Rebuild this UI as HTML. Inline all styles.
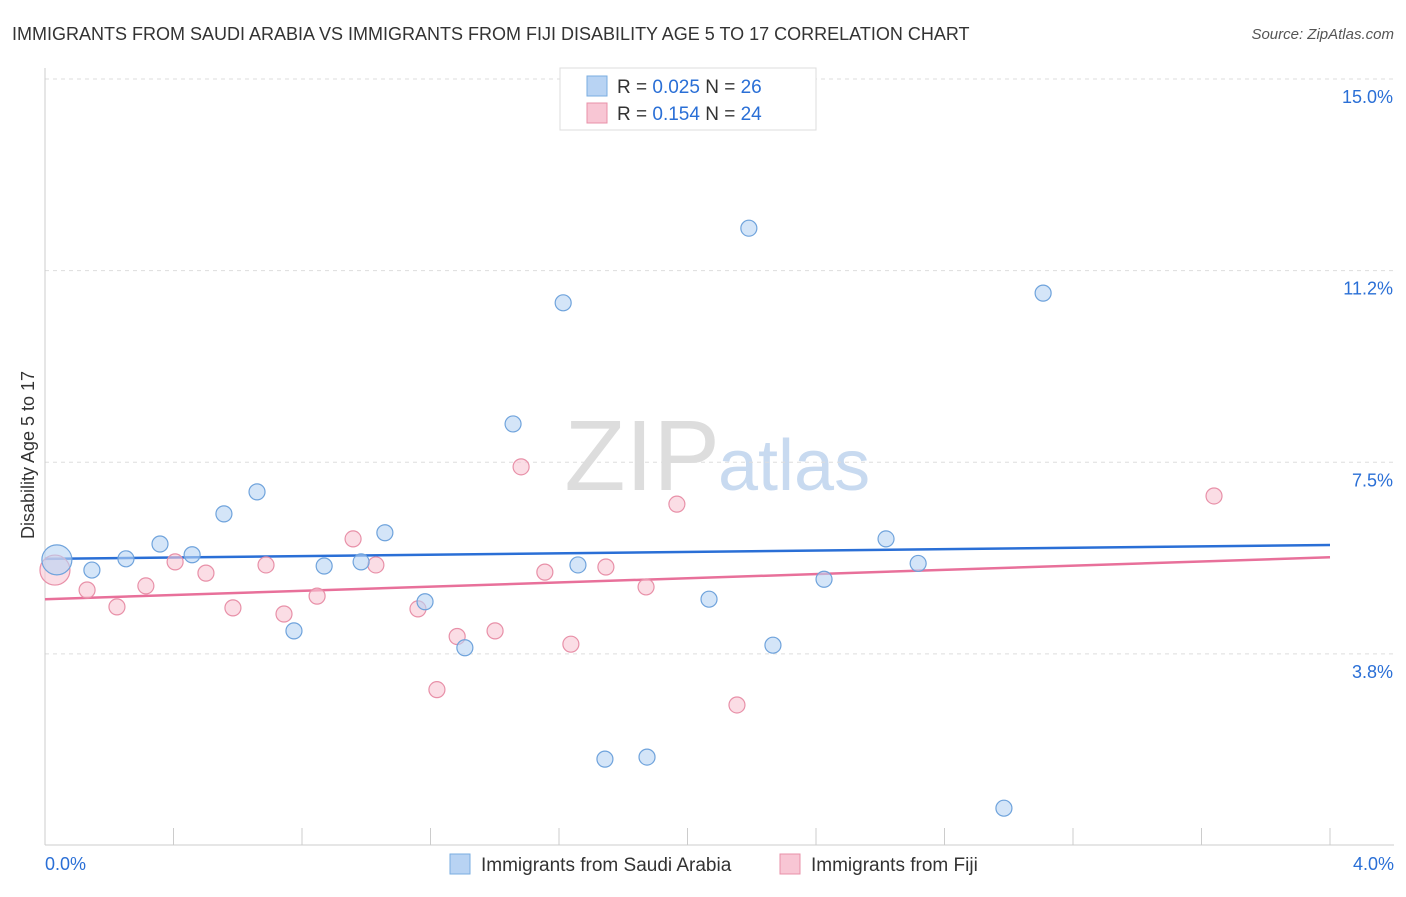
<!DOCTYPE html>
<html><head><meta charset="utf-8"><style>
body{margin:0;background:#fff;font-family:"Liberation Sans",sans-serif;}
svg text{font-family:"Liberation Sans",sans-serif;}
</style></head><body>
<svg width="1406" height="892" viewBox="0 0 1406 892">
<text x="12" y="40" font-size="18" fill="#333">IMMIGRANTS FROM SAUDI ARABIA VS IMMIGRANTS FROM FIJI DISABILITY AGE 5 TO 17 CORRELATION CHART</text>
<text x="1394" y="39" font-size="15" fill="#555" font-style="italic" text-anchor="end">Source: ZipAtlas.com</text>
<text x="34" y="455" font-size="18" fill="#333" transform="rotate(-90 34 455)" text-anchor="middle">Disability Age 5 to 17</text>
<text x="720" y="490" font-size="100" fill="#ddd" font-family="Liberation Serif" text-anchor="end">ZIP</text>
<text x="718" y="490" font-size="72" fill="#c8daf0">atlas</text>
<g id="grid"></g><g id="axes"></g><g id="lines"></g><g id="pts"></g>
<g>
<rect x="560" y="68" width="256" height="62" fill="#fff" stroke="#ddd"/>
<rect x="587" y="76" width="20" height="20" fill="#b8d3f3" stroke="#7aaee0"/>
<rect x="587" y="103" width="20" height="20" fill="#f8c6d4" stroke="#e890a8"/>
<text x="617" y="93" font-size="19" fill="#333">R = <tspan fill="#2a6fd6">0.025</tspan>   N = <tspan fill="#2a6fd6">26</tspan></text>
<text x="617" y="120" font-size="19" fill="#333">R =  <tspan fill="#2a6fd6">0.154</tspan>   N = <tspan fill="#2a6fd6">24</tspan></text>
</g>
<g>
<rect x="450" y="854" width="20" height="20" fill="#b8d3f3" stroke="#7aaee0"/>
<text x="481" y="871" font-size="19" fill="#333">Immigrants from Saudi Arabia</text>
<rect x="780" y="854" width="20" height="20" fill="#f8c6d4" stroke="#e890a8"/>
<text x="811" y="871" font-size="19" fill="#333">Immigrants from Fiji</text>
</g>
</svg>
<script>
const yTicks=[15.0,11.25,7.5,3.75];
const yTickLabels=["15.0%","11.2%","7.5%","3.8%"];
const xTickLabels=["0.0%","4.0%"];
const blueX=[0.037,0.146,0.252,0.358,0.458,0.557,0.660,0.775,0.869,0.984,1.058,1.183,1.307,1.457,1.613,1.659,1.743,1.874,2.067,2.191,2.266,2.425,2.618,2.718,2.985,3.107];
const blueY=[5.59,5.39,5.61,5.90,5.69,6.49,6.92,4.20,5.47,5.55,6.12,4.77,3.87,8.25,10.62,5.49,1.69,1.73,4.82,12.08,3.92,5.21,6.00,5.52,0.73,10.81];
const pinkX=[0.031,0.131,0.224,0.314,0.405,0.501,0.585,0.688,0.744,0.847,0.959,1.030,1.161,1.220,1.283,1.401,1.482,1.556,1.637,1.746,1.871,1.967,2.154,3.639];
const pinkY=[5.39,5.00,4.67,5.08,5.55,5.33,4.65,5.49,4.53,4.88,6.00,5.49,4.63,3.05,4.09,4.20,7.41,5.35,3.94,5.45,5.06,6.68,2.75,6.84];
const blueTrend=[5.61,5.88];
const pinkTrend=[4.82,5.64];
const NS="http://www.w3.org/2000/svg";
const X=v=>45+v*321.25, Y=v=>845.5-v*51.1;
function mk(t,a,p){const e=document.createElementNS(NS,t);for(const k in a)e.setAttribute(k,a[k]);p.appendChild(e);return e;}
const grid=document.getElementById('grid'),axes=document.getElementById('axes');
yTicks.forEach((t,i)=>{
 const l=mk('line',{x1:45,x2:1394,y1:Y(t),y2:Y(t),stroke:'#ddd','stroke-dasharray':'4,4'},grid);
 
 
 const tx=mk('text',{x:1393,y:Y(t)+24,'font-size':18,fill:'#2a6fd6','text-anchor':'end'},axes);
 tx.textContent=yTickLabels[i];
 
 
});
mk('line',{x1:45,x2:45,y1:68,y2:845,stroke:'#ccc'},axes);
mk('line',{x1:45,x2:1394,y1:845,y2:845,stroke:'#ccc'},axes);
for(let i=0;i<=10;i++){const x=X(i*0.4);const t=mk('line',{x1:x,x2:x,y1:828,y2:845,stroke:'#ccc'},axes);}
[[0,45,'start'],[1,1394,'end']].forEach(([i,x,a])=>{const t=mk('text',{x:x,y:870,'font-size':18,fill:'#2a6fd6','text-anchor':a},axes);t.textContent=xTickLabels[i];});
const lines=document.getElementById('lines'),pts=document.getElementById('pts');
function dots(xs,ys,fill,stroke,name){xs.forEach((v,i)=>{const c=mk('circle',{cx:X(v),cy:Y(ys[i]),r:i==0?15:8,fill:fill,'fill-opacity':0.6,stroke:stroke,'stroke-width':1.2},pts);});}
dots(pinkX,pinkY,'#f8c6d4','#e890a8','fiji-point');
dots(blueX,blueY,'#b8d3f3','#6fa3dc','saudi-point');
const lb=mk('line',{x1:X(0),x2:X(4),y1:Y(blueTrend[0]),y2:Y(blueTrend[1]),stroke:'#2a6fd6','stroke-width':2.5},lines);


const lp=mk('line',{x1:X(0),x2:X(4),y1:Y(pinkTrend[0]),y2:Y(pinkTrend[1]),stroke:'#e8709a','stroke-width':2.5},lines);


</script>
</body></html>
